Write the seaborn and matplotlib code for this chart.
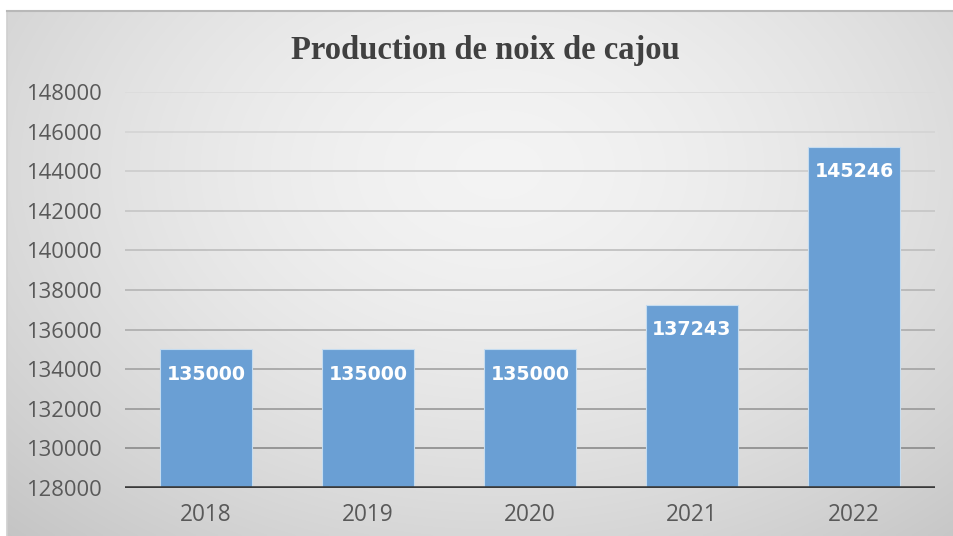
import numpy as np
import pandas as pd
import matplotlib
matplotlib.use("Agg")
import matplotlib.pyplot as plt
import seaborn as sns

years = ["2018", "2019", "2020", "2021", "2022"]
production = [135000, 135000, 135000, 137243, 145246]
y_ticks = [128000, 130000, 132000, 134000, 136000, 138000, 140000, 142000, 144000, 146000, 148000]
title = "Production de noix de cajou"

df = pd.DataFrame({"year": years, "production": production})

sns.set_theme(style="white")
plt.rcParams['font.family'] = ['Open Sans', 'DejaVu Sans']

W, H = 954, 536
fig = plt.figure(figsize=(W / 100, H / 100), dpi=100)
fig.patch.set_facecolor("white")

# background panel with radial gradient
bx0, by1 = 7 / W, 1 - 11 / H
bg = fig.add_axes([bx0, 0, 1 - bx0, by1])
ny, nx = 200, 400
yy, xx = np.mgrid[0:1:ny * 1j, 0:1:nx * 1j]
d = np.sqrt(((xx - 0.52) / 0.75) ** 2 + ((yy - 0.3) / 0.95) ** 2)
g = np.clip(0.955 - 0.18 * d ** 1.6, 0.76, 0.96)
bg.imshow(np.dstack([g, g, g]), aspect="auto", extent=[0, 1, 1, 0], interpolation="bilinear")
bg.set_xticks([]); bg.set_yticks([])
for s in bg.spines.values():
    s.set_visible(False)
bg.spines["top"].set_visible(True)
bg.spines["top"].set_color("#b8b8b8")
bg.spines["top"].set_linewidth(1.5)
bg.spines["left"].set_visible(True)
bg.spines["left"].set_color("#d0d0d0")
bg.set_zorder(0)

ax = fig.add_axes([125 / W, 1 - 488 / H, (935 - 125) / W, (488 - 92) / H])
ax.set_zorder(1)
ax.patch.set_alpha(0)

sns.barplot(data=df, x="year", y="production", color="#6a9fd4", width=0.57,
            saturation=1, edgecolor="#c5dcf0", linewidth=0.8, ax=ax, zorder=3)

ax.set_ylim(y_ticks[0], y_ticks[-1])
ax.set_yticks(y_ticks)
ax.set_yticklabels([str(t) for t in y_ticks])
ax.set_xlim(-0.5, len(years) - 0.5)

# gridlines whose tone darkens toward the bottom
n = len(y_ticks)
for i, t in enumerate(y_ticks[1:], start=1):
    f = (i - 1) / (n - 2)
    c = 0.54 + (0.86 - 0.54) * f ** 0.8
    ax.axhline(t, color=(c, c, c), linewidth=1.2, zorder=1)
ax.axhline(y_ticks[0], color="#3a3a3a", linewidth=2.6, zorder=4)

for s in ax.spines.values():
    s.set_visible(False)

ax.tick_params(axis="both", length=0, colors="#595959")
ax.tick_params(axis="y", pad=17, labelsize=15.8)
ax.tick_params(axis="x", pad=11, labelsize=16.3)
ax.set_xlabel("")
ax.set_ylabel("")

for i, v in enumerate(production):
    ax.annotate(str(v), (i, v), xytext=(0, -18), textcoords="offset points",
                ha="center", va="center", color="white", fontsize=13.7,
                fontweight="bold", family=["DejaVu Sans"], zorder=5)

fig.text(485 / W, 1 - 50 / H, title, ha="center", va="center",
         family=["Liberation Serif"], fontweight="bold", fontsize=23.5, color="#404040")

fig.savefig("out.png", dpi=100)
